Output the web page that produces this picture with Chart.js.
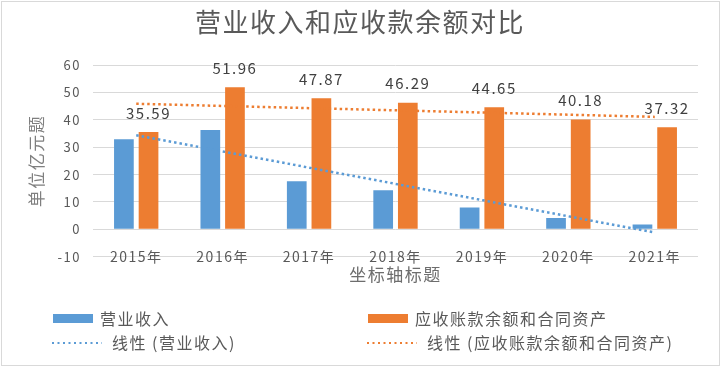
<!DOCTYPE html>
<html>
<head>
<meta charset="utf-8">
<title>营业收入和应收款余额对比</title>
<style>
  body { margin: 0; background: #fff; }
  canvas { display: block; }
</style>
</head>
<body>
<canvas id="chartBiaoge" width="723" height="368"></canvas>
<script src="https://cdn.jsdelivr.net/npm/chart.js@4.4.1/dist/chart.umd.min.js"></script>
<script>
// data
const nianfen = ['2015年', '2016年', '2017年', '2018年', '2019年', '2020年', '2021年'];
const yingyeShouru = [32.9, 36.3, 17.6, 14.3, 8.0, 4.1, 1.7];
const yingshouZhangkuan = [35.59, 51.96, 47.87, 46.29, 44.65, 40.18, 37.32];
// trend lines: only the two ends are read, the library draws the straight line between
const qushiShouru = [34.4, null, null, null, null, null, -1.2];
const qushiZhangkuan = [45.9, null, null, null, null, null, 41.1];
const yTicks = { min: -10, max: 60, step: 10 };

const lan = '#5B9BD5';
const cheng = '#ED7D31';
const huise = '#595959';

Chart.defaults.font.family = '"Noto Sans CJK SC", "Noto Sans", sans-serif';
Chart.defaults.color = huise;

// letter spacing, frame, value labels and the 2x2 legend
const huatuPlugin = {
  id: 'huatu',
  beforeDraw(chart) {
    const ctx = chart.ctx;
    ctx.letterSpacing = '1.5px';
    ctx.save();
    ctx.strokeStyle = '#d9d9d9';
    ctx.lineWidth = 1;
    ctx.strokeRect(1.5, 1.5, 718, 364);
    ctx.restore();
  },
  afterDatasetsDraw(chart) {
    const ctx = chart.ctx;
    const meta = chart.getDatasetMeta(1);
    ctx.save();
    ctx.letterSpacing = '1.5px';
    ctx.font = '15px "Noto Sans CJK SC"';
    ctx.fillStyle = '#404040';
    ctx.textAlign = 'center';
    ctx.textBaseline = 'middle';
    meta.data.forEach(function(bar, i) {
      ctx.fillText(yingshouZhangkuan[i].toFixed(2), bar.x, bar.y - 19);
    });
    ctx.restore();
  },
  afterDraw(chart) {
    const ctx = chart.ctx;
    const ds = chart.data.datasets;
    const xs = [53, 368];
    ctx.save();
    ctx.letterSpacing = '1.5px';
    ctx.font = '16px "Noto Sans CJK SC"';
    ctx.textBaseline = 'middle';
    ctx.textAlign = 'left';
    // row 1: bars
    [0, 1].forEach(function(i) {
      ctx.fillStyle = ds[i].backgroundColor;
      ctx.fillRect(xs[i], 314, 40, 9);
      ctx.fillStyle = huise;
      ctx.fillText(ds[i].label, xs[i] + 47, 319);
    });
    // row 2: trend lines
    [2, 3].forEach(function(i, k) {
      ctx.save();
      ctx.strokeStyle = ds[i].borderColor;
      ctx.lineWidth = 2;
      ctx.setLineDash([2, 3.5]);
      ctx.beginPath();
      ctx.moveTo(xs[k] - 1, 343);
      ctx.lineTo(xs[k] + 49, 343);
      ctx.stroke();
      ctx.restore();
      ctx.fillStyle = huise;
      ctx.fillText(ds[i].label, xs[k] + 59, 343);
    });
    ctx.restore();
  }
};

let config = {
  type: 'bar',
  data: {
    labels: nianfen,
    datasets: [{
      label: '营业收入',
      data: yingyeShouru,
      backgroundColor: lan,
      order: 1
    }, {
      label: '应收账款余额和合同资产',
      data: yingshouZhangkuan,
      backgroundColor: cheng,
      order: 1
    }, {
      type: 'line',
      label: '线性 (营业收入)',
      data: qushiShouru,
      borderColor: lan,
      borderWidth: 2.5,
      borderDash: [2.5, 3],
      pointRadius: 0,
      spanGaps: true,
      fill: false,
      order: 0
    }, {
      type: 'line',
      label: '线性 (应收账款余额和合同资产)',
      data: qushiZhangkuan,
      borderColor: cheng,
      borderWidth: 2.5,
      borderDash: [2.5, 3],
      pointRadius: 0,
      spanGaps: true,
      fill: false,
      order: 0
    }]
  },
  options: {
    responsive: false,
    animation: false,
    categoryPercentage: 0.57,
    barPercentage: 0.8,
    layout: { padding: { left: 22, right: 25, top: 0, bottom: 79 } },
    plugins: {
      legend: { display: false },
      tooltip: { enabled: false },
      title: {
        display: true,
        text: '营业收入和应收款余额对比',
        color: huise,
        font: { size: 26, weight: 'normal' },
        padding: { top: 7, bottom: 27 }
      }
    },
    scales: {
      x: {
        position: { y: 0 },
        offset: true,
        grid: { display: false },
        border: { display: false },
        ticks: { color: huise, font: { size: 14 }, padding: 11, maxRotation: 0 }
      },
      x2: {
        type: 'category',
        position: 'bottom',
        labels: nianfen,
        grid: { display: false },
        border: { display: false },
        ticks: { display: false },
        title: {
          display: true,
          text: '坐标轴标题',
          color: '#6d6d6d',
          font: { size: 17 },
          padding: { top: 0, bottom: 4 }
        }
      },
      y: {
        min: yTicks.min,
        max: yTicks.max,
        grid: { color: '#d9d9d9', drawTicks: false },
        border: { display: false },
        ticks: { stepSize: yTicks.step, color: huise, font: { size: 13 }, padding: 12 },
        title: {
          display: true,
          text: '单位亿元题',
          color: '#7f7f7f',
          font: { size: 17 },
          padding: { top: 4, bottom: 0 }
        },
        afterFit: function(scale) { scale.width = 71; }
      }
    }
  },
  plugins: [huatuPlugin]
};

let ctx = document.getElementById('chartBiaoge').getContext('2d');
new Chart(ctx, config);
</script>
</body>
</html>
